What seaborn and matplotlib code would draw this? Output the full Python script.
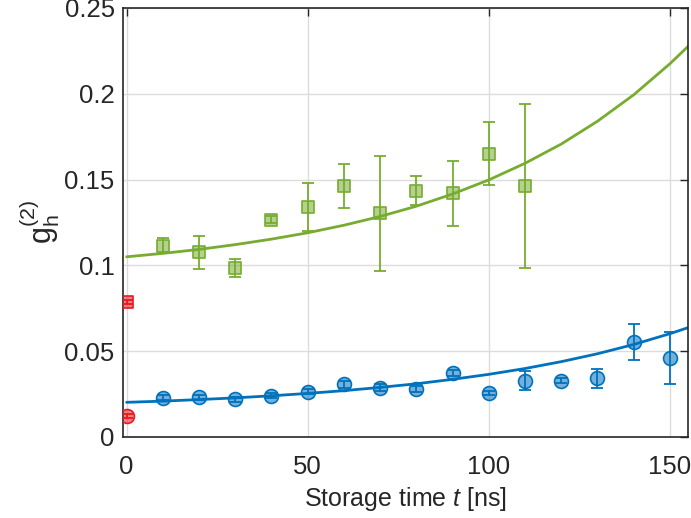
import numpy as np
import pandas as pd
import matplotlib
matplotlib.use("Agg")
import matplotlib.pyplot as plt
import seaborn as sns

# ---- data ----
green_t = [10, 20, 30, 40, 50, 60, 70, 80, 90, 100, 110]
green_g = [0.1115, 0.1076, 0.0985, 0.1265, 0.1342, 0.1463, 0.1303, 0.1436, 0.1420, 0.1651, 0.1463]
green_err = [0.0045, 0.0097, 0.0050, 0.0020, 0.0140, 0.0130, 0.0333, 0.0085, 0.0188, 0.0185, 0.0478]

blue_t = [10, 20, 30, 40, 50, 60, 70, 80, 90, 100, 110, 120, 130, 140, 150]
blue_g = [0.0229, 0.0231, 0.0220, 0.0241, 0.0264, 0.0307, 0.0287, 0.0280, 0.0373, 0.0254,
          0.0328, 0.0328, 0.0342, 0.0554, 0.0460]
blue_err = [0.0015, 0.0015, 0.0015, 0.0015, 0.0015, 0.0020, 0.0020, 0.0020, 0.0020, 0.0012,
            0.0057, 0.0015, 0.0056, 0.0105, 0.0153]

red_sq_t = [0]
red_sq_g = [0.0785]
red_sq_err = [0.0012]
red_ci_t = [0]
red_ci_g = [0.0124]
red_ci_err = [0.0012]

fit_t = [0, 10, 20, 30, 40, 50, 60, 70, 80, 90, 100, 110, 120, 130, 140, 150, 155]
green_fit = [0.1050, 0.1070, 0.1093, 0.1121, 0.1153, 0.1190, 0.1234, 0.1285, 0.1345, 0.1416,
             0.1498, 0.1595, 0.1707, 0.1840, 0.1994, 0.2175, 0.2276]
blue_fit = [0.0202, 0.0209, 0.0218, 0.0228, 0.0240, 0.0254, 0.0270, 0.0289, 0.0310, 0.0336,
            0.0365, 0.0399, 0.0439, 0.0485, 0.0539, 0.0602, 0.0637]

xticks = [0, 50, 100, 150]
yticks = [0, 0.05, 0.1, 0.15, 0.2, 0.25]
ytick_labels = ["0", "0.05", "0.1", "0.15", "0.2", "0.25"]

GREEN = "#77AC30"
BLUE = "#0072BD"
RED = "#E8191F"

sns.set_style("white")
plt.rcParams["font.family"] = ["Liberation Sans", "DejaVu Sans"]
plt.rcParams["mathtext.fontset"] = "custom"
plt.rcParams["mathtext.rm"] = "Liberation Sans"
plt.rcParams["mathtext.it"] = "Liberation Sans:italic"

fig = plt.figure(figsize=(6.91, 5.18), dpi=100)
ax = fig.add_axes([0.178, 0.1564, 0.8177, 0.8282])

# fit curves
sns.lineplot(x=fit_t, y=green_fit, ax=ax, color=GREEN, lw=2.0, zorder=2)
sns.lineplot(x=fit_t, y=blue_fit, ax=ax, color=BLUE, lw=2.0, zorder=2)

# error bars
def eb(t, g, e, c):
    ax.errorbar(t, g, yerr=e, fmt="none", ecolor=c, elinewidth=1.3, capsize=4, capthick=1.3, zorder=3)

eb(green_t, green_g, green_err, GREEN)
eb(blue_t, blue_g, blue_err, BLUE)
eb(red_sq_t, red_sq_g, red_sq_err, RED)
eb(red_ci_t, red_ci_g, red_ci_err, RED)

# markers
def sc(t, g, c, m, s):
    df = pd.DataFrame({"t": t, "g": g})
    sns.scatterplot(data=df, x="t", y="g", ax=ax, marker=m, s=s,
                    facecolor=matplotlib.colors.to_rgba(c, 0.55), edgecolor=c, linewidth=1.2, zorder=4)

sc(green_t, green_g, GREEN, "s", 75)
sc(blue_t, blue_g, BLUE, "o", 100)
sc(red_sq_t, red_sq_g, RED, "s", 65)
sc(red_ci_t, red_ci_g, RED, "o", 100)

ax.set_xlim(-1, 155)
ax.set_ylim(0, 0.25)
ax.set_xticks(xticks)
ax.set_yticks(yticks)
ax.set_yticklabels(ytick_labels)
ax.grid(True, color="#dcdcdc", lw=1.0)
ax.set_axisbelow(True)
ax.tick_params(axis="both", direction="in", length=6, width=1, labelsize=18.5,
               colors="#262626", top=True, right=True)
ax.tick_params(axis="x", pad=13)
ax.tick_params(axis="y", pad=6)
for sp in ax.spines.values():
    sp.set_color("#262626")
    sp.set_linewidth(1.2)
    sp.set_visible(True)

ax.set_xlabel(r"Storage time $\mathit{t}$ [ns]", fontsize=18, color="#262626", labelpad=4)
ax.set_ylabel(r"$\mathregular{g_h^{(2)}}$", fontsize=22, color="#262626", labelpad=2)

fig.savefig("out.png", dpi=100)
